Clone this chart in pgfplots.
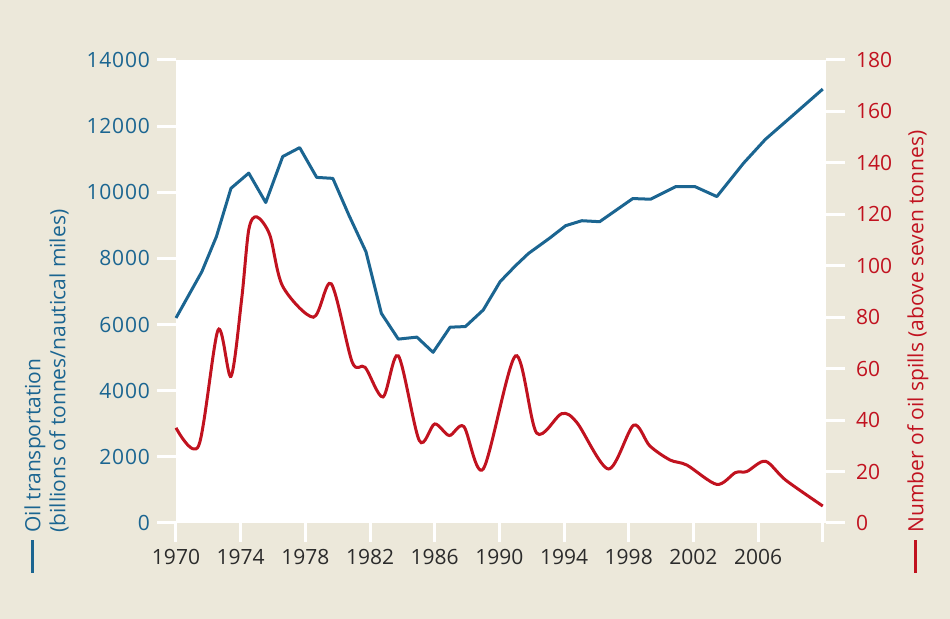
\documentclass[border=0pt]{standalone}
\usepackage{fontspec}
\setmainfont{Open Sans}
\newfontfamily\ytickfont[LetterSpace=4]{Open Sans}
\usepackage{pgfplots}
\pgfplotsset{compat=1.18}
\definecolor{bg}{HTML}{ECE8DA}
\definecolor{oilblue}{HTML}{1B6591}
\definecolor{oilred}{HTML}{C1121F}
\definecolor{txt}{HTML}{2B2B2B}
\newcommand{\lblfont}{\fontsize{10.5}{12.5}\selectfont}
\begin{document}
\begin{tikzpicture}
\fill[bg] (0pt,0pt) rectangle (475pt,309.5pt);
\path[use as bounding box] (0pt,0pt) rectangle (475pt,309.5pt);
\pgfplotsset{
  common/.style={
    at={(88pt,48pt)}, anchor=south west, scale only axis,
    width=325pt, height=231.5pt,
    xmin=1970, xmax=2010.2,
    axis line style={draw=none},
    tick align=outside, major tick length=9.5pt,
    major tick style={white, line width=1.5pt},
    scaled y ticks=false,
    /pgf/number format/assume math mode=true,
    /pgf/number format/1000 sep={},
    clip=false,
  }
}
\begin{axis}[common,
  ymin=0, ymax=14000,
  axis background/.style={fill=white},
  xtick={1970,1974,...,2010},
  xticklabels={1970,1974,1978,1982,1986,1990,1994,1998,2002,2006,{}},
  ytick={0,2000,...,14000},
  xtick pos=left, ytick pos=left,
  yticklabel style={oilblue, font=\ytickfont\lblfont},
  xticklabel style={txt, font=\lblfont},
]
\addplot[oilblue, line width=1.5pt, line join=round] coordinates {
(1970.0,6200) (1971.6,7600) (1972.5,8660) (1973.4,10120) (1974.5,10580)
(1975.55,9690) (1976.6,11080) (1977.65,11350) (1978.7,10450) (1979.7,10420)
(1980.7,9300) (1981.75,8200) (1982.7,6340) (1983.75,5560) (1984.9,5620)
(1985.9,5160) (1986.95,5920) (1987.9,5940) (1989.0,6440) (1990.05,7300)
(1991.0,7780) (1991.8,8150) (1993.1,8610) (1994.1,8990) (1995.1,9140)
(1996.2,9110) (1998.25,9810) (1999.35,9790) (2000.9,10170) (2002.1,10170)
(2003.45,9870) (2005.1,10880) (2006.45,11600) (2008.3,12390) (2010.0,13120)
};
\end{axis}
\begin{axis}[common,
  ymin=0, ymax=180,
  ytick={0,20,...,180},
  xtick=\empty,
  ytick pos=right,
  yticklabel style={oilred, font=\lblfont, xshift=2pt},
]
\addplot[oilred, line width=1.5pt, smooth, tension=0.5] coordinates {
(1970.0,37) (1971.4,30) (1972.6,75) (1973.4,57) (1974.06,87) (1974.5,114)
(1975.0,119) (1975.8,112) (1976.6,92) (1978.5,80) (1979.6,93) (1980.9,62.5)
(1981.7,60.5) (1982.8,49) (1983.75,65) (1985.05,32) (1986.0,38.5) (1986.9,34)
(1987.8,37.5) (1989.0,21) (1991.0,65) (1992.3,35) (1993.85,42.5) (1994.8,39)
(1996.75,21) (1998.3,38) (1999.3,30) (2000.55,24.5) (2001.6,22.5) (2003.45,15)
(2004.6,19.6) (2005.3,20) (2006.45,24) (2007.7,16.7) (2010.0,6.6)
};
\end{axis}
\node[rotate=90, anchor=north west, align=left, text=oilblue, font=\lblfont, inner sep=0pt]
  at (12pt,23pt) {\rule[3.2pt]{16.5pt}{1.6pt}\hspace{3.5pt}Oil transportation\\\hspace*{20pt}(billions of tonnes/nautical miles)};
\node[rotate=90, anchor=north west, align=left, text=oilred, font=\lblfont, inner sep=0pt]
  at (453.5pt,23pt) {\rule[3.2pt]{16.5pt}{1.6pt}\hspace{3.5pt}Number of oil spills (above seven tonnes)};
\end{tikzpicture}
\end{document}
